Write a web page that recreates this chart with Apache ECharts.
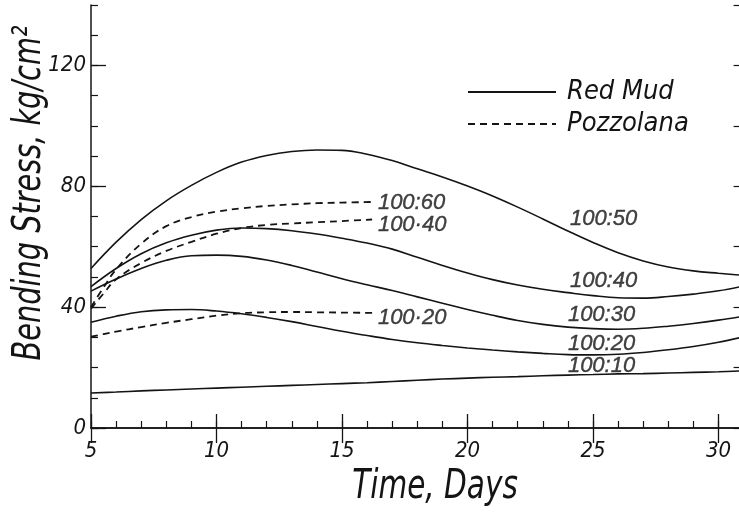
<!DOCTYPE html>
<html>
<head>
<meta charset="utf-8">
<script src="https://cdn.jsdelivr.net/npm/echarts@6/dist/echarts.min.js"></script>
<style>
  html, body { margin: 0; padding: 0; background: #fff; }
  #chart { width: 739px; height: 523px; }
</style>
</head>
<body>
<div id="chart"></div>
<script>
// days for the red mud curves
const days = [5, 6, 7, 8, 9, 10, 11, 12, 13, 14, 15, 16, 17, 18, 19, 20, 21, 22, 23, 24, 25, 26, 27, 28, 29, 30, 31]
const redMud50 = [52.8, 61.5, 69.0, 75.2, 80.3, 84.6, 88.0, 90.2, 91.5, 92.0, 91.9, 90.6, 88.5, 85.8, 83.1, 80.1, 76.8, 73.1, 69.2, 65.2, 61.4, 58.0, 55.3, 53.3, 52.0, 51.2, 50.5]
const redMud40 = [46.8, 52.8, 57.7, 61.3, 63.8, 65.5, 66.2, 66.0, 65.3, 64.2, 62.8, 61.2, 59.2, 56.5, 53.8, 51.3, 49.1, 47.3, 45.9, 44.8, 43.8, 43.1, 43.0, 43.5, 44.3, 45.4, 47.0]
const redMud30 = [45.3, 49.3, 52.8, 55.5, 57.0, 57.2, 56.8, 55.6, 53.8, 51.6, 49.4, 47.4, 45.5, 43.4, 41.3, 39.2, 37.3, 35.6, 34.3, 33.4, 32.9, 32.7, 33.0, 33.7, 34.6, 35.7, 37.0]
const redMud20 = [35.0, 37.0, 38.5, 39.1, 39.2, 38.7, 37.8, 36.6, 35.2, 33.6, 32.0, 30.6, 29.3, 28.2, 27.3, 26.5, 25.8, 25.2, 24.7, 24.3, 24.2, 24.4, 25.0, 25.9, 27.0, 28.4, 30.2]
const redMud10 = [11.6, 11.9, 12.3, 12.6, 12.9, 13.2, 13.5, 13.8, 14.1, 14.4, 14.7, 15.0, 15.4, 15.8, 16.2, 16.5, 16.8, 17.0, 17.3, 17.5, 17.7, 17.9, 18.0, 18.2, 18.4, 18.6, 18.9]

// pozzolana curves stop at ~16 days
const pozDays = [5, 5.5, 6, 7, 8, 9, 10, 11, 12, 13, 14, 15, 16.2]
const pozzolana60 = [40.0, 46.5, 52.5, 61.0, 66.8, 69.8, 71.6, 72.7, 73.5, 74.0, 74.4, 74.6, 74.8]
const pozzolana40 = [39.5, 44.5, 49.2, 54.6, 58.6, 61.6, 64.3, 66.2, 67.2, 67.7, 68.1, 68.5, 69.0]
const pozzolana20 = [30.2, 31.1, 31.9, 33.4, 34.8, 36.0, 37.2, 38.0, 38.3, 38.4, 38.3, 38.2, 38.1]

// curve labels: text, day, stress
const curveLabels = [
  ['100:60', 16.43, 74.5],
  ['100·40', 16.43, 67.2],
  ['100·20', 16.43, 36.6],
  ['100:50', 24.08, 69.2],
  ['100:40', 24.08, 48.7],
  ['100:30', 24.0, 37.4],
  ['100:20', 24.0, 27.8],
  ['100:10', 24.0, 20.5],
]

const yTickLabels = [0, 40, 80, 120]
const xTickLabels = [5, 10, 15, 20, 25, 30]

const ink = '#141414'
const narrow = "'Liberation Sans Narrow', 'DejaVu Sans Condensed', 'Liberation Sans', sans-serif"
const plain = "'Liberation Sans', 'DejaVu Sans', sans-serif"

const pairs = (xs, ys) => xs.map((x, i) => [x, ys[i]])

const solid = (values) => ({
  name: 'Red Mud',
  type: 'line',
  smooth: 0.4,
  symbol: 'none',
  lineStyle: { color: ink, width: 1.6, type: 'solid' },
  data: pairs(days, values),
})

const dashed = (values) => ({
  name: 'Pozzolana',
  type: 'line',
  smooth: 0.4,
  symbol: 'none',
  lineStyle: { color: ink, width: 1.8, type: [7, 5] },
  data: pairs(pozDays, values),
})

const labelSeries = {
  name: 'labels',
  type: 'scatter',
  symbolSize: 0,
  silent: true,
  data: curveLabels.map(([text, d, s]) => ({ name: text, value: [d, s] })),
  label: {
    show: true,
    position: 'right',
    distance: 0,
    formatter: (p) => p.name,
    color: ink,
    fontFamily: plain,
    fontStyle: 'italic',
    fontSize: 22,
    textBorderColor: ink,
    textBorderWidth: 0.4,
  },
}

const chart = echarts.init(document.getElementById('chart'))

const option = {
  animation: false,
  backgroundColor: '#fff',
  grid: { left: 91, right: -4.6, top: 5, bottom: 95, containLabel: false, outerBoundsMode: 'none' },
  legend: {
    orient: 'vertical',
    left: 462,
    top: 72,
    itemWidth: 88,
    itemHeight: 14,
    itemGap: 2,
    selectedMode: false,
    data: ['Red Mud', 'Pozzolana'],
    itemStyle: { color: 'rgba(0,0,0,0)', borderWidth: 0, opacity: 0 },
    textStyle: {
      color: ink,
      fontFamily: narrow,
      fontStyle: 'italic',
      fontSize: 27,
      lineHeight: 30,
      padding: [0, 0, 0, 6],
    },
  },
  xAxis: [
    {
      type: 'value',
      position: 'bottom',
      min: 5,
      max: 31,
      interval: 5,
      axisLine: { lineStyle: { color: ink, width: 1.5 } },
      axisTick: { inside: true, length: 14, lineStyle: { color: ink, width: 1.3 } },
      axisLabel: {
        margin: 12,
        color: ink,
        fontFamily: narrow,
        fontStyle: 'italic',
        fontSize: 22,
        formatter: (v) => (xTickLabels.includes(v) ? String(v) : ''),
      },
      splitLine: { show: false },
    },
    {
      type: 'value',
      position: 'bottom',
      min: 5,
      max: 31,
      interval: 1,
      axisLine: { show: false },
      axisTick: { inside: true, length: 7, lineStyle: { color: ink, width: 1.2 } },
      axisLabel: { show: false },
      splitLine: { show: false },
    },
    {
      type: 'value',
      position: 'top',
      min: 5,
      max: 31,
      interval: 5,
      axisLine: { lineStyle: { color: ink, width: 1.5 } },
      axisTick: { inside: true, length: 15, lineStyle: { color: ink, width: 1.3 } },
      axisLabel: { show: false },
      splitLine: { show: false },
    },
  ],
  yAxis: [
    {
      type: 'value',
      position: 'left',
      min: 0,
      max: 140,
      interval: 40,
      axisLine: { show: true, lineStyle: { color: ink, width: 1.5 } },
      axisTick: { show: true, inside: true, length: 15, lineStyle: { color: ink, width: 1.3 } },
      axisLabel: {
        margin: 5,
        showMaxLabel: false,
        color: ink,
        fontFamily: narrow,
        fontStyle: 'italic',
        fontSize: 22,
        formatter: (v) => (yTickLabels.includes(v) ? String(v) : ''),
      },
      splitLine: { show: false },
    },
    {
      type: 'value',
      position: 'left',
      min: 0,
      max: 140,
      interval: 10,
      axisLine: { show: false },
      axisTick: { show: true, inside: true, length: 7, lineStyle: { color: ink, width: 1.2 } },
      axisLabel: { show: false },
      splitLine: { show: false },
    },
    {
      type: 'value',
      position: 'right',
      min: 0,
      max: 140,
      interval: 20,
      axisLine: { show: true, lineStyle: { color: ink, width: 1.5 } },
      axisTick: { show: true, inside: true, length: 10, lineStyle: { color: ink, width: 1.2 } },
      axisLabel: { show: false },
      splitLine: { show: false },
    },
  ],
  graphic: [
    {
      type: 'text',
      x: 435,
      y: 488,
      scaleX: 0.82,
      style: {
        text: 'Time, Days',
        fill: ink,
        font: "italic 40px " + narrow,
        align: 'center',
        verticalAlign: 'middle',
      },
    },
    {
      type: 'text',
      x: 30,
      y: 193,
      rotation: Math.PI / 2,
      scaleX: 0.82,
      style: {
        text: 'Bending Stress, kg/cm²',
        fill: ink,
        font: "italic 39px " + narrow,
        align: 'center',
        verticalAlign: 'middle',
      },
    },
  ],
  series: [
    solid(redMud50),
    solid(redMud40),
    solid(redMud30),
    solid(redMud20),
    solid(redMud10),
    dashed(pozzolana60),
    dashed(pozzolana40),
    dashed(pozzolana20),
    labelSeries,
  ],
}

chart.setOption(option)
</script>
</body>
</html>
